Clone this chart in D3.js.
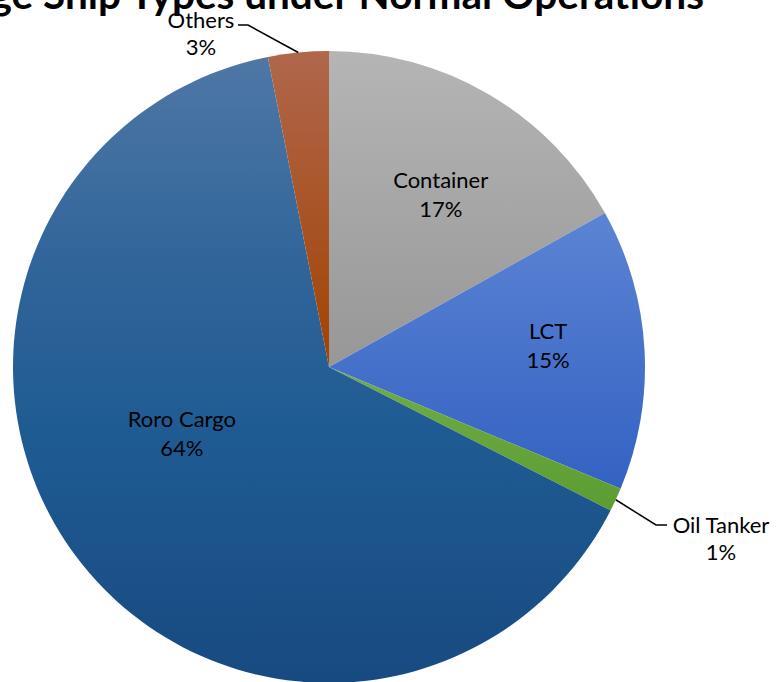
<!DOCTYPE html>
<html>
<head>
<meta charset="utf-8">
<script src="https://cdn.jsdelivr.net/npm/d3@7/dist/d3.min.js"></script>
<style>
  html, body { margin: 0; padding: 0; background: #fff; }
  svg { display: block; }
  text { font-family: Lato, "Open Sans", sans-serif; }
</style>
</head>
<body>
<svg id="chart" width="776" height="682"></svg>
<script>
// ---- data ----
const categories = ["Container", "LCT", "Oil Tanker", "Roro Cargo", "Others"];
const shares = [16.9, 14.4, 1.2, 64.4, 3.1];
const percentLabels = ["17%", "15%", "1%", "64%", "3%"];
const title = "Percentage Ship Types under Normal Operations";

// ---- styles ----
const gradStops = [
  [[0, "#b5b5b5"], [1, "#979797"]],
  [[0, "#5c84d4"], [1, "#3462c2"]],
  [[0, "#6fae47"], [1, "#5c9c30"]],
  [[0, "#4e77a5"], [0.35, "#2f6499"], [0.6, "#1f5b93"], [1, "#174a80"]],
  [[0, "#b0674c"], [1, "#a24202"]]
];

const W = 776, H = 682;
const cx = 329, cy = 367, R = 316;
const svg = d3.select("#chart");
const defs = svg.append("defs");

gradStops.forEach((s, i) => {
  const g = defs.append("linearGradient")
    .attr("id", "g" + i).attr("x1", 0).attr("y1", 0).attr("x2", 0).attr("y2", 1);
  s.forEach(([o, c]) => g.append("stop").attr("offset", o).attr("stop-color", c));
});

const pie = d3.pie().sort(null).value(d => d.v);
const data = categories.map((c, i) => ({ c, v: shares[i], p: percentLabels[i], i }));
const arcs = pie(data);
const arc = d3.arc().innerRadius(0).outerRadius(R);

const g = svg.append("g").attr("transform", `translate(${cx},${cy})`);
g.selectAll("path").data(arcs).enter().append("path")
  .attr("d", arc)
  .attr("fill", d => `url(#g${d.data.i})`);

// inside labels: radius and angle offset (degrees) per category
const inside = {
  "Container": { r: 205, da: 2.6 },
  "LCT": { r: 220, da: -2 },
  "Roro Cargo": { r: 162, da: 12.3 }
};
const fs = 22;
const lh = 29;
arcs.forEach(d => {
  const cfg = inside[d.data.c];
  if (!cfg) return;
  const a = (d.startAngle + d.endAngle) / 2 + cfg.da * Math.PI / 180;
  const x = cfg.r * Math.sin(a), y = -cfg.r * Math.cos(a);
  const t = g.append("text").attr("text-anchor", "middle")
    .attr("font-size", fs).attr("fill", "#000");
  t.append("tspan").attr("x", x).attr("y", y - lh / 2 + 7).text(d.data.c);
  t.append("tspan").attr("x", x).attr("y", y + lh / 2 + 7).text(d.data.p);
});

// outside labels with leader lines
function outside(name, elbow, textX, textY) {
  const d = arcs.find(a => a.data.c === name);
  const a = (d.startAngle + d.endAngle) / 2;
  const px = cx + R * Math.sin(a), py = cy - R * Math.cos(a);
  const [ex, ey, hx] = elbow;
  svg.append("polyline")
    .attr("points", `${px},${py} ${ex},${ey} ${hx},${ey}`)
    .attr("fill", "none").attr("stroke", "#000").attr("stroke-width", 1.5);
  const t = svg.append("text").attr("text-anchor", "middle").attr("font-size", fs).attr("fill", "#000");
  t.append("tspan").attr("x", textX).attr("y", textY).text(d.data.c);
  t.append("tspan").attr("x", textX).attr("y", textY + lh - 2).text(d.data.p);
}
outside("Others", [248, 25, 238], 201, 28);
outside("Oil Tanker", [656, 525, 667], 721, 533);

// title (partially clipped at the top of the window)
svg.append("text").attr("x", 704).attr("y", 9).attr("text-anchor", "end")
  .attr("font-size", 40.5).attr("font-weight", "bold").attr("fill", "#000")
  .text(title);
</script>
</body>
</html>
